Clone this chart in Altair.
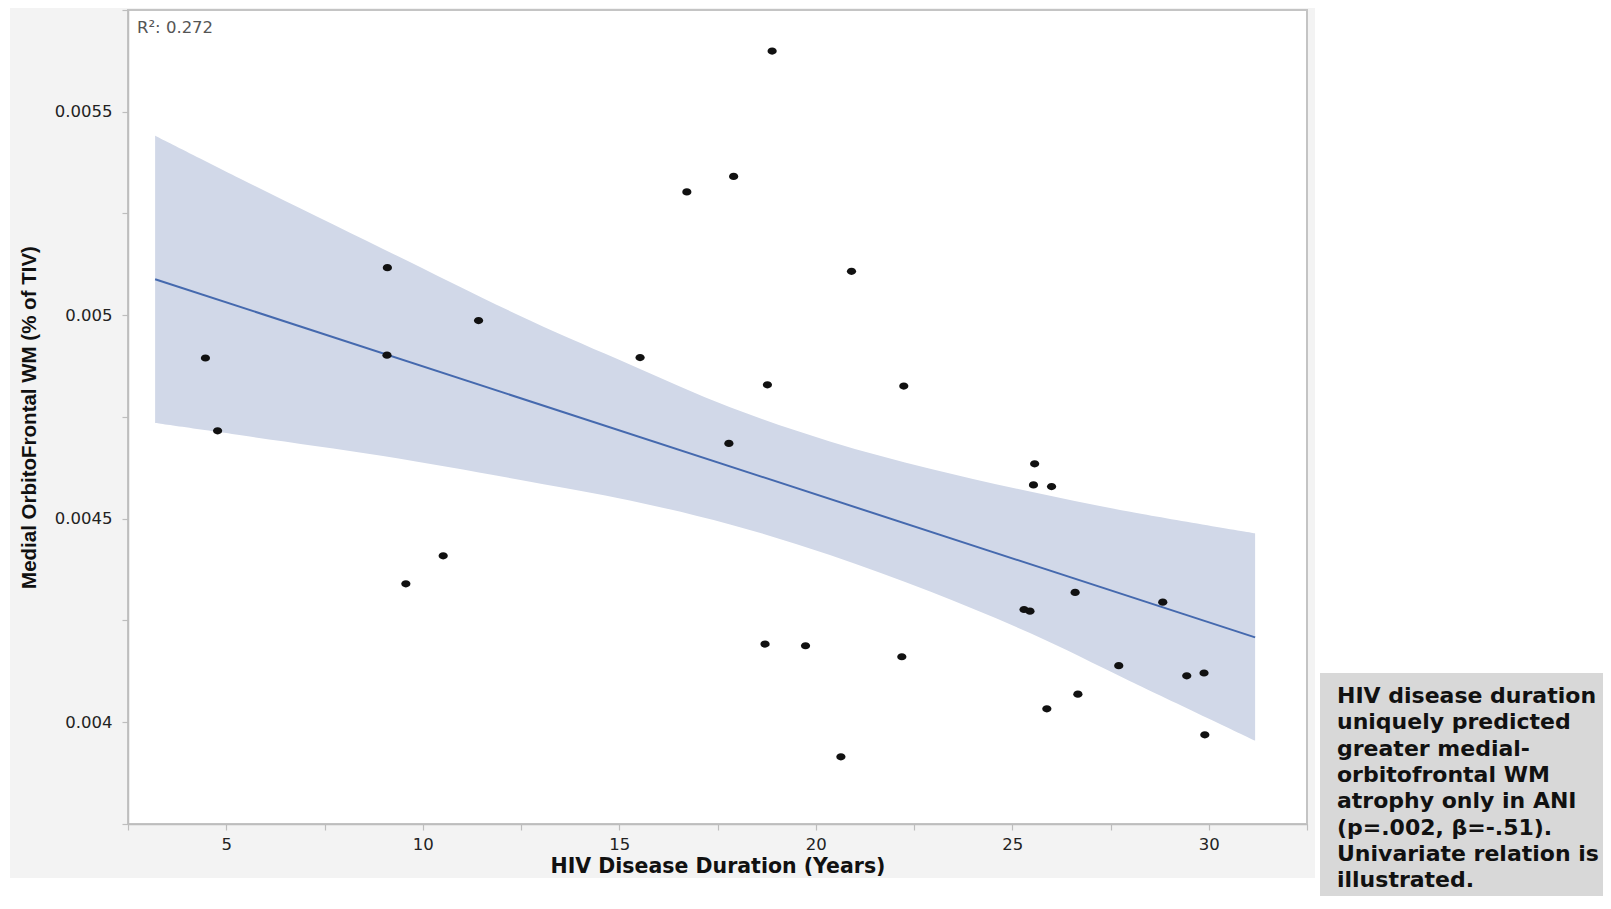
import altair as alt
import pandas as pd

# ---- data ----
DURATION = [4.47, 4.78, 9.10, 9.09, 9.57, 10.52, 11.42, 15.53, 16.72, 17.91,
            17.79, 18.89, 18.77, 18.71, 19.74, 20.91, 20.64, 22.24, 22.19, 25.57,
            25.54, 26.00, 25.30, 25.45, 26.60, 28.83, 27.71, 26.67, 25.88, 29.44,
            29.88, 29.90]
WM = [0.004895, 0.004716, 0.005117, 0.004902, 0.004340, 0.004409, 0.004987,
      0.004896, 0.005303, 0.005341, 0.004685, 0.005649, 0.004829, 0.004192,
      0.004188, 0.005108, 0.003915, 0.004826, 0.004161, 0.004635, 0.004583,
      0.004579, 0.004277, 0.004273, 0.004319, 0.004295, 0.004139, 0.004069,
      0.004033, 0.004114, 0.004121, 0.003969]

BAND_X = [3.19, 5.60, 8.99, 12.73, 15.27, 17.82, 20.36, 22.91, 25.45, 28.00, 31.18]
BAND_HI = [0.005441, 0.005324, 0.005163, 0.004987, 0.004879, 0.004774, 0.004690,
           0.004623, 0.004567, 0.004517, 0.004464]
BAND_LO = [0.004735, 0.004702, 0.004654, 0.004591, 0.004545, 0.004486, 0.004411,
           0.004321, 0.004219, 0.004101, 0.003955]

X_TICKS = [2.5, 5, 7.5, 10, 12.5, 15, 17.5, 20, 22.5, 25, 27.5, 30, 32.5]
Y_TICKS = [0.00375, 0.004, 0.00425, 0.0045, 0.00475, 0.005, 0.00525, 0.0055, 0.00575]
X_DOMAIN = [2.5, 32.5]
Y_DOMAIN = [0.00375, 0.00575]

X_TITLE = "HIV Disease Duration (Years)"
Y_TITLE = "Medial OrbitoFrontal WM (% of TIV)"
R2_TEXT = "R²: 0.272"
NOTE_LINES = ["HIV disease duration", "uniquely predicted", "greater medial-",
              "orbitofrontal WM", "atrophy only in ANI", "(p=.002, β=-.51).",
              "Univariate relation is", "illustrated."]

W, H = 1179, 814

pts = pd.DataFrame({"dur": DURATION, "wm": WM})
band = pd.DataFrame({"dur": BAND_X, "wm": BAND_LO, "wm2": BAND_HI})
one = alt.Data(values=[{}])

x_axis = alt.Axis(values=X_TICKS, labelExpr="datum.value % 5 == 0 ? datum.label : ''",
                  tickSize=6, labelPadding=6, titlePadding=4, grid=False,
                  domainColor="#bdbdbd", tickColor="#bdbdbd", domainWidth=1.5, tickWidth=1.2,
                  labelFont="DejaVu Sans", labelFontSize=16.5, labelColor="#222",
                  titleFont="DejaVu Sans", titleFontSize=20.5, titleFontWeight="bold",
                  titleColor="#111", labelOverlap=False, labelFlush=False, zindex=1)
y_axis = alt.Axis(values=Y_TICKS,
                  labelExpr="abs(datum.value*10000 - round(datum.value*2000)*5) < 0.01 ? format(datum.value, '.4~f') : ''",
                  tickSize=6, labelPadding=10, titlePadding=15, grid=False,
                  domainColor="#bdbdbd", tickColor="#bdbdbd", domainWidth=1.5, tickWidth=1.2,
                  labelFont="DejaVu Sans", labelFontSize=16.5, labelColor="#222",
                  titleFont="Liberation Sans", titleFontSize=20.5, titleFontWeight="bold",
                  titleColor="#111", labelOverlap=False, labelFlush=False, zindex=1)

X_ENC = alt.X("dur:Q", scale=alt.Scale(domain=X_DOMAIN, nice=False, zero=False), axis=x_axis, title=X_TITLE)
Y_ENC = alt.Y("wm:Q", scale=alt.Scale(domain=Y_DOMAIN, nice=False, zero=False), axis=y_axis, title=Y_TITLE)

panel = alt.Chart(one).mark_rect(color="#f3f3f3").encode(
    x=alt.value(-118), x2=alt.value(1187), y=alt.value(-10), y2=alt.value(868))
plotbg = alt.Chart(one).mark_rect(color="white").encode(
    x=alt.value(0), x2=alt.value(W), y=alt.value(0), y2=alt.value(H))

band_layer = alt.Chart(band).mark_area(color="#d1d8e8", opacity=1, interpolate="catmull-rom").encode(
    x=X_ENC, y=Y_ENC, y2="wm2:Q")

fit = alt.Chart(pts).transform_regression("dur", "wm", extent=[BAND_X[0], BAND_X[-1]]).mark_line(
    color="#4569ae", strokeWidth=2).encode(x=X_ENC, y=Y_ENC)

ellipse = "M -1 0 A 1 0.78 0 1 1 1 0 A 1 0.78 0 1 1 -1 0 Z"
points = alt.Chart(pts).mark_point(shape=ellipse, filled=True, fill="#111", size=85,
                                   opacity=1, strokeWidth=0).encode(x=X_ENC, y=Y_ENC)

r2 = alt.Chart(one).mark_text(text=R2_TEXT, align="left", baseline="middle",
                              font="DejaVu Sans", fontSize=16.5, color="#555").encode(
    x=alt.value(9), y=alt.value(18))

border = alt.Chart(one).mark_rect(fillOpacity=0, stroke="#c4c4c4", strokeWidth=2).encode(
    x=alt.value(0), x2=alt.value(W), y=alt.value(0), y2=alt.value(H))

note_bg = alt.Chart(one).mark_rect(color="#d8d8d8").encode(
    x=alt.value(1192), x2=alt.value(1475), y=alt.value(663), y2=alt.value(890))
note = alt.Chart(one).mark_text(text=NOTE_LINES, align="left", baseline="alphabetic",
                                font="DejaVu Sans", fontWeight="bold", fontSize=22,
                                lineHeight=26.3, color="#111").encode(
    x=alt.value(1209), y=alt.value(693))

chart = alt.layer(panel, plotbg, band_layer, fit, points, r2, border, note_bg, note).properties(
    width=W, height=H,
    autosize=alt.AutoSizeParams(type="none"),
    padding={"left": 120, "top": 2, "right": 296, "bottom": 72},
).configure(background="white").configure_view(stroke="transparent")

chart.save("out.html", embed_options={"renderer": "svg", "actions": False})
